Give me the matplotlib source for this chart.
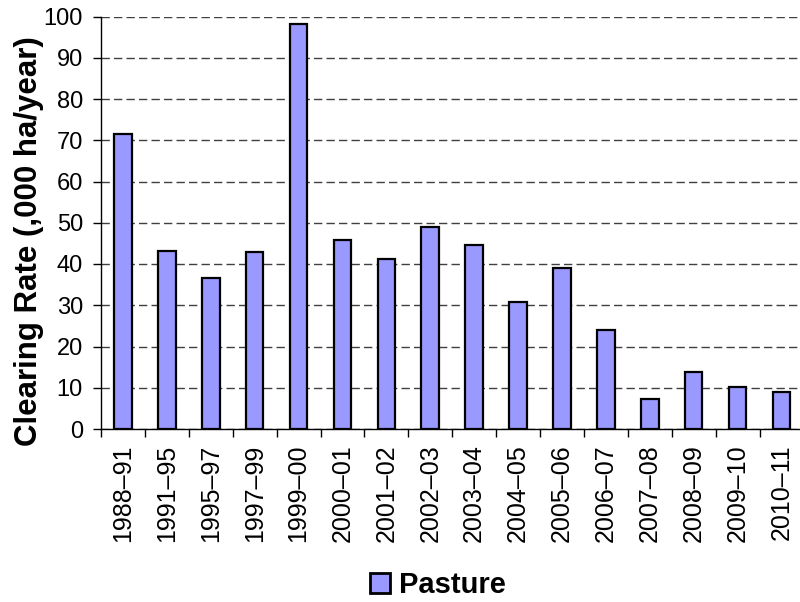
import matplotlib.pyplot as plt
import numpy as np

periods = ["1988\u201391", "1991\u201395", "1995\u201397", "1997\u201399", "1999\u201300",
           "2000\u201301", "2001\u201302", "2002\u201303", "2003\u201304", "2004\u201305",
           "2005\u201306", "2006\u201307", "2007\u201308", "2008\u201309", "2009\u201310",
           "2010\u201311"]
pasture = [71.4, 43.2, 36.7, 42.8, 98.1, 45.7, 41.3, 49.0, 44.6, 30.9,
           39.1, 24.0, 7.3, 13.9, 10.2, 8.9]

plt.rcParams['font.family'] = ['Liberation Sans', 'DejaVu Sans']

fig = plt.figure(figsize=(8, 6.02), dpi=100)
# plot area runs slightly past the right edge of the picture, like the original
ax = fig.add_axes([101 / 800, 173 / 602, 702.4 / 800, 412.5 / 602])

x = np.arange(len(periods))
ax.bar(x, pasture, width=0.4, color="#9999FF", edgecolor="black",
       linewidth=1.6, label="Pasture", zorder=3)

ax.set_xlim(-0.5, len(periods) - 0.5)
ax.set_ylim(0, 100)
ax.set_yticks(range(0, 101, 10))
ax.yaxis.grid(True, linestyle=(0, (6, 3)), color="#404040", linewidth=1.0, zorder=0)

ax.set_xticks(x)
ax.set_xticklabels(periods, rotation=90)
ax.set_xticks(np.arange(-0.5, len(periods), 1), minor=True)
ax.tick_params(axis="x", which="major", length=0, pad=11, labelsize=18)
ax.tick_params(axis="x", which="minor", length=6, width=1, direction="out")
ax.tick_params(axis="y", length=6, width=1, direction="out", pad=7, labelsize=17)

for s in ["top", "right"]:
    ax.spines[s].set_visible(False)
ax.spines["left"].set_linewidth(1)
ax.spines["bottom"].set_linewidth(1)

ax.set_ylabel("Clearing Rate (,000 ha/year)", fontsize=22.5, fontweight="bold")
ax.yaxis.set_label_coords(-0.081, 0.455)

leg = fig.legend(loc="center", bbox_to_anchor=(438 / 800, 1 - 585 / 602), frameon=False,
                 prop={"size": 21, "weight": "bold"}, handlelength=0.7, handleheight=0.7,
                 handletextpad=0.3)
for h in leg.legend_handles:
    h.set_linewidth(2)

plt.savefig("out.png", dpi=100)
